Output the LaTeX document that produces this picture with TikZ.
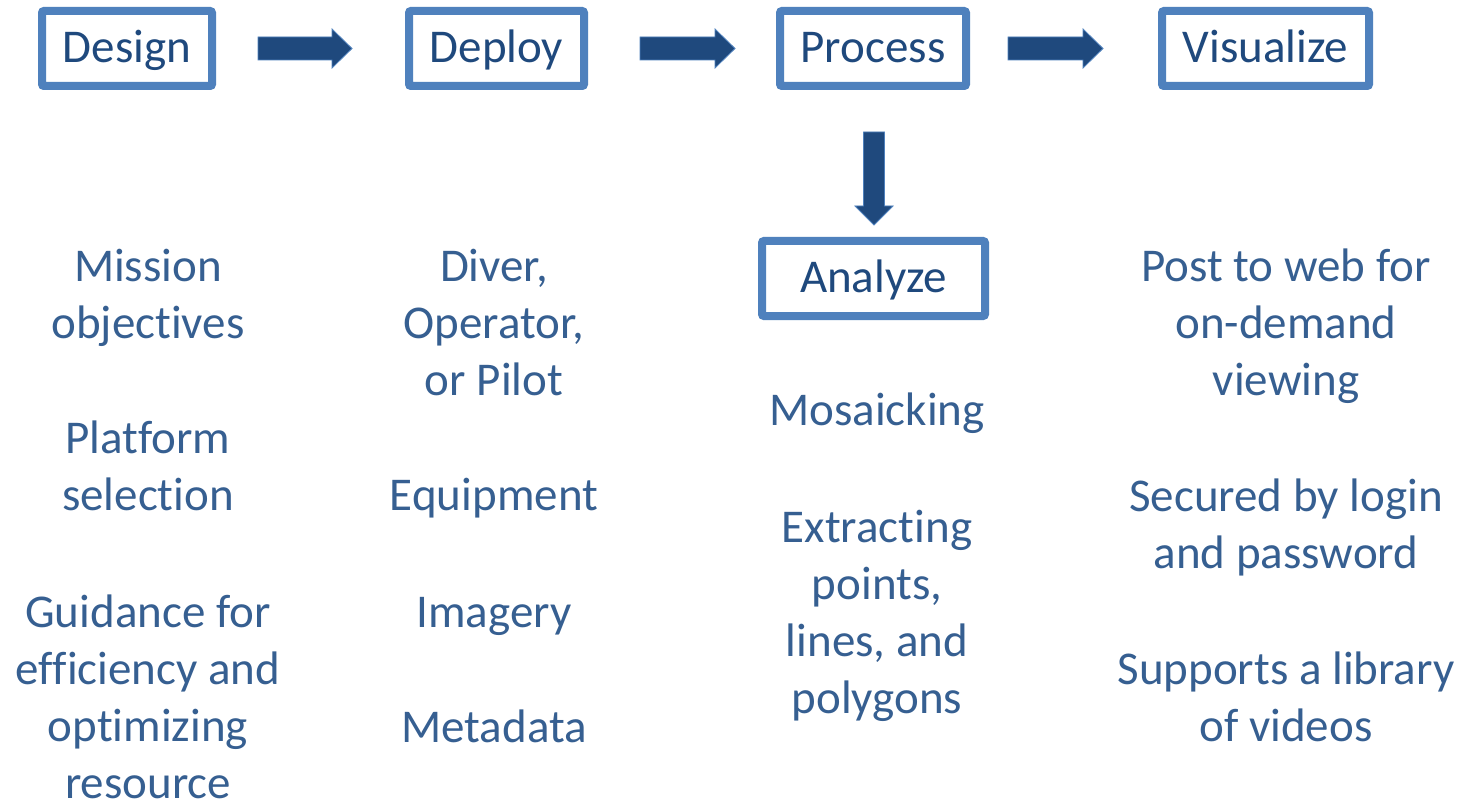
\documentclass[tikz,border=0pt]{standalone}
\usepackage{fontspec}
\setmainfont{Carlito}[Ligatures=NoCommon]
\definecolor{boxedge}{HTML}{4F81BD}
\definecolor{boxtext}{HTML}{1F497D}
\definecolor{listtext}{HTML}{365F91}
\definecolor{arrowfill}{HTML}{1F497D}
\tikzset{
  x=1pt, y=-1pt,
  stage/.style={draw=boxedge, line width=8pt, rounded corners=2pt, fill=white,
    minimum height=75pt, inner sep=0pt, text=boxtext,
    text height=35pt, text depth=6pt,
    font=\fontsize{47}{57}\selectfont},
  item/.style={align=center, inner sep=0pt, text=listtext, anchor=base,
    font=\fontsize{47}{57}\selectfont},
  blockarrow/.style={fill=arrowfill, draw=boxedge, line width=0.8pt, line join=miter}
}
% horizontal block arrow: start x, tip x, centre y
\newcommand\hblock[3]{%
  \path[blockarrow] (#1,#3-11.5) -- (#2-20,#3-11.5) -- (#2-20,#3-19.5) -- (#2,#3)
    -- (#2-20,#3+19.5) -- (#2-20,#3+11.5) -- (#1,#3+11.5) -- cycle;}
\begin{document}
\begin{tikzpicture}
\useasboundingbox (0,0) rectangle (1464,802);
\fill[white] (0,0) rectangle (1464,802);

% stages
\node[stage, minimum width=170pt] (design)    at (127,48.5)   {Design};
\node[stage, minimum width=175pt] (deploy)    at (496.5,48.5) {Deploy};
\node[stage, minimum width=186pt] (process)   at (873,48.5)   {Process};
\node[stage, minimum width=207pt] (visualize) at (1265.5,48.5){Visualize};
\node[stage, minimum width=223pt] (analyze)   at (873.5,278.5){Analyze};

% flow arrows
\hblock{258}{352}{48.5}
\hblock{640}{735}{48.5}
\hblock{1008}{1103}{48.5}
\path[blockarrow] (863.5,132) -- (884.5,132) -- (884.5,206) -- (893,206) -- (874,225)
  -- (855,206) -- (863.5,206) -- cycle;

% design column (node base = last line's baseline)
\node[item] (mission)  at (148,338) {Mission\\objectives};
\node[item] (platform) at (148,510) {Platform\\selection};
\node[item] (guidance) at (148,798) {Guidance for\\efficiency and\\optimizing\\resource};

% deploy column
\node[item] (diver)     at (494,395) {Diver,\\Operator,\\or Pilot};
\node[item] (equipment) at (494,510) {Equipment};
\node[item] (imagery)   at (494,627) {Imagery};
\node[item] (metadata)  at (494,742) {Metadata};

% analyze column
\node[item] (mosaic)  at (877,425) {Mosaicking};
\node[item] (extract) at (877,713) {Extracting\\points,\\lines, and\\polygons};

% visualize column
\node[item] (post)     at (1286,395) {Post to web for\\on-demand\\viewing};
\node[item] (secured)  at (1286,568) {Secured by login\\and password};
\node[item] (supports) at (1286,741) {Supports a library\\of videos};
\end{tikzpicture}
\end{document}
